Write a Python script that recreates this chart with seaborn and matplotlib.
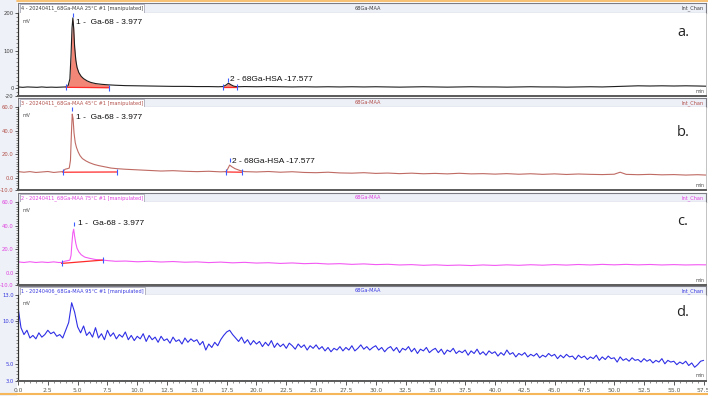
import numpy as np
import pandas as pd
import seaborn as sns
import matplotlib
matplotlib.use("Agg")
import matplotlib.pyplot as plt
from matplotlib.ticker import FixedLocator, MultipleLocator, AutoMinorLocator
from matplotlib.patches import Rectangle
from matplotlib.lines import Line2D

# ---------------- data ----------------
x_ticks = [0.0, 2.5, 5.0, 7.5, 10.0, 12.5, 15.0, 17.5, 20.0, 22.5, 25.0, 27.5, 30.0,
           32.5, 35.0, 37.5, 40.0, 42.5, 45.0, 47.5, 50.0, 52.5, 55.0, 57.5]

run_names = ["4 - 20240411_68Ga-MAA 25°C #1 [manipulated]",
             "3 - 20240411_68Ga-MAA 45°C #1 [manipulated]",
             "2 - 20240411_68Ga-MAA 75°C #1 [manipulated]",
             "1 - 20240406_68Ga-MAA 95°C #1 [manipulated]"]
panel_letters = ["a.", "b.", "c.", "d."]
peak1_label = "1 -  Ga-68 - 3.977"
peak2_label = "2 - 68Ga-HSA -17.577"

# panel a (25 °C)
time_a = [0, 0.4, 0.8, 1.2, 1.6, 2.0, 2.4, 2.8, 3.2, 3.6, 4.0, 4.2, 4.35, 4.45, 4.53,
          4.6, 4.67, 4.75, 4.85, 4.95, 5.1, 5.3, 5.5, 5.8, 6.1, 6.5, 7.0, 7.6, 8.2, 9.0,
          10, 11, 12, 13, 14, 15, 16, 16.8, 17.2, 17.45, 17.65, 17.85, 18.1, 18.4, 19, 20,
          21, 22, 23, 24, 25, 26, 27, 28, 29, 30, 31, 32, 33, 34, 35, 36, 37, 38, 39, 40,
          41, 42, 43, 44, 45, 46, 47, 48, 49, 50, 51, 52, 53, 54, 55, 56, 57, 57.7]
mv_a = [4, 3, 4, 3.5, 3, 4, 3, 3.5, 3, 3.5, 4, 7, 25, 90, 160,
        187, 160, 110, 75, 56, 42, 32, 26, 20, 16, 13, 11, 9.5, 8.5, 7.5,
        7, 6.5, 6, 5.5, 5.5, 5, 5, 4.5, 5, 9, 14, 10, 6, 4.5, 5, 4.5,
        5, 4.5, 4, 4.5, 4, 4.5, 4, 4.5, 4, 4.5, 4, 3.5, 4, 4.5, 4, 3.5, 4, 4.5, 4, 4,
        3.5, 4, 4.5, 4, 4, 3.5, 4, 4.5, 4, 5, 6, 7, 6.5, 7, 6.5, 7, 6.5, 6]

# panel b (45 °C)
time_b = [0, 0.5, 1.0, 1.5, 2.0, 2.5, 3.0, 3.4, 3.75, 3.95, 4.15, 4.3, 4.4, 4.48, 4.55,
          4.62, 4.7, 4.8, 4.9, 5.05, 5.2, 5.4, 5.7, 6.0, 6.4, 6.8, 7.3, 7.8, 8.3, 9.0,
          10, 11, 12, 13, 14, 15, 16, 17, 17.45, 17.6, 17.75, 17.95, 18.2, 18.6, 19, 20,
          21, 22, 23, 24, 25, 26, 27, 28, 29, 30, 31, 32, 33, 34, 35, 36, 37, 38, 39, 40,
          41, 42, 43, 44, 45, 46, 47, 48, 49, 50, 50.5, 51, 52, 53, 54, 55, 56, 57, 57.7]
mv_b = [5.5, 5, 5.5, 4.8, 5.2, 5.6, 4.8, 5.2, 5.5, 7.5, 8, 8.5, 15, 38, 54,
        50, 38, 30, 26, 22, 19, 16.5, 14.5, 13, 11.5, 10.5, 9.5, 8.5, 8, 7.5,
        7, 6.5, 6, 6.3, 5.8, 5.5, 5.8, 5.3, 5.5, 8, 11, 9.5, 8, 6.5, 5.5, 5.2,
        5.6, 5, 5.4, 4.8, 4.6, 5, 4.4, 4.2, 4.6, 4, 4.3, 3.8, 4.2, 3.7, 4, 3.6, 4.1, 3.6, 3.8, 3.4,
        3.8, 3.3, 3.7, 3.2, 3.6, 3.1, 3.5, 3.2, 3, 3.3, 5, 3.2, 2.9, 3.2, 2.8, 3, 2.6, 2.9, 2.6]

# panel c (75 °C)
time_c = [0, 0.5, 1.0, 1.5, 2.0, 2.5, 3.0, 3.4, 3.65, 3.9, 4.15, 4.35, 4.45, 4.52, 4.6,
          4.67, 4.75, 4.85, 4.95, 5.1, 5.3, 5.6, 6.0, 6.5, 7.1, 7.6, 8.2, 9.0, 10, 11,
          12, 13, 14, 15, 16, 17, 18, 19, 20, 21, 22, 23, 24, 25, 26, 27, 28, 29, 30,
          31, 32, 33, 34, 35, 36, 37, 38, 39, 40, 41, 42, 43, 44, 45, 46, 47, 48, 49, 50,
          51, 52, 53, 54, 55, 56, 57, 57.7]
mv_c = [9.5, 9, 9.6, 9, 9.4, 9, 9.5, 9, 9, 10, 10.5, 11, 15, 25, 34,
        37, 31, 25, 21, 18, 15.5, 13.5, 12.5, 11.5, 11, 10.5, 10, 10.2, 9.6, 10,
        9.4, 9.8, 9.2, 9.5, 8.9, 9.3, 8.7, 9.1, 8.5, 8.8, 8.2, 8.6, 8, 8.3, 7.7, 8, 7.4, 7.8, 7.2,
        7.5, 6.9, 7.2, 6.6, 7, 6.5, 6.8, 6.4, 6.9, 6.5, 7, 6.6, 7.1, 6.7, 7.2, 6.8, 7.3, 6.9, 7.4, 7,
        7.4, 7, 7.3, 6.9, 7.2, 6.9, 7.1, 7]

# panel d (95 °C), one reading every 0.25 min
step_d = 0.25
mv_d = [11.6, 9.2, 8.4, 8.9, 8.0, 8.3, 7.9, 8.6, 8.1, 8.4,
        8.9, 8.5, 8.7, 8.2, 8.4, 8.0, 8.9, 9.8, 12.1, 11.0,
        9.3, 8.6, 9.4, 8.3, 8.7, 8.1, 9.2, 8.0, 8.5, 7.8,
        8.9, 8.2, 8.6, 7.9, 8.4, 8.1, 8.7, 7.8, 8.3, 7.7,
        8.2, 7.9, 8.5, 7.6, 8.3, 7.8, 8.1, 7.5, 8.2, 7.7,
        7.9, 7.4, 8.1, 7.6, 7.8, 7.3, 8.0, 7.5, 7.9, 7.6,
        7.8, 7.2, 7.6, 6.6, 7.3, 6.9, 7.5, 7.1, 7.8, 8.3,
        8.7, 8.9, 8.4, 8.0, 7.6, 8.1, 7.4, 7.8, 7.2, 7.7,
        7.3, 7.6, 7.0, 7.5, 7.1, 7.7, 6.9, 7.4, 7.0, 7.3,
        6.8, 7.4, 7.1, 6.7, 7.3, 6.9, 7.2, 6.6, 7.1, 6.8,
        7.2, 6.7, 7.0, 6.5, 6.9, 6.4, 6.8, 6.6, 7.0, 6.5,
        6.9, 6.6, 7.1, 6.5, 6.8, 7.2, 6.7, 7.0, 6.6, 6.9,
        7.1, 6.6, 6.9, 6.4, 6.8, 7.0, 6.5, 6.9, 6.3, 6.8,
        6.6, 7.0, 6.4, 6.8, 6.2, 6.7, 6.5, 6.9, 6.3, 6.6,
        6.8, 6.3, 6.7, 6.1, 6.6, 6.4, 6.8, 6.2, 6.5, 6.3,
        6.6, 6.0, 6.5, 6.2, 6.7, 6.1, 6.4, 6.0, 6.5, 6.2,
        6.4, 5.9, 6.3, 6.0, 6.6, 6.1, 6.3, 5.8, 6.2, 6.0,
        6.3, 5.8, 6.1, 5.9, 6.2, 5.7, 6.0, 5.8, 6.2, 5.9,
        6.1, 5.6, 6.0, 5.7, 6.1, 5.8, 5.9, 5.5, 6.0, 5.7,
        5.9, 5.5, 5.8, 5.6, 6.0, 5.4, 5.8, 5.5, 5.9, 5.6,
        5.7, 5.2, 5.8, 5.4, 5.6, 5.3, 5.7, 5.4, 5.5, 5.2,
        5.6, 5.3, 5.5, 5.1, 5.4, 5.2, 5.6, 5.0, 5.4, 5.2,
        5.3, 4.9, 5.2, 5.0, 5.3, 4.8, 5.1, 4.6, 4.9, 5.3,
        5.4]
time_d = [i * step_d for i in range(len(mv_d))]

# integration events: (start, end, baseline at start, baseline at end, apex time, apex mV)
events_a = [(4.0, 7.6, 3.0, 2.0, 4.6, 187), (17.2, 18.4, 4.0, 4.0, 17.65, 14)]
events_b = [(3.75, 8.3, 5.0, 5.2, 4.55, 54), (17.45, 18.8, 5.2, 5.0, 17.75, 11)]
events_c = [(3.65, 7.1, 8.2, 11.0, 4.67, 37)]

# ---------------- styling / layout ----------------
sns.set_style("white")
plt.rcParams["font.family"] = ["DejaVu Sans"]

W, H = 708, 396
fig = plt.figure(figsize=(W / 100, H / 100), dpi=100)
fig.patch.set_facecolor("white")

def px_rect(x0, y0, x1, y1):
    return [x0 / W, 1 - y1 / H, (x1 - x0) / W, (y1 - y0) / H]

# window background strip + orange borders
fig.patches.append(Rectangle((0, 0), 17 / W, 1, transform=fig.transFigure,
                             facecolor="#eef1f7", edgecolor="none", zorder=-5))
fig.add_artist(Line2D([17 / W, 1], [1 - 1 / H, 1 - 1 / H], color="#f6b65a", lw=1.2))
fig.add_artist(Line2D([0, 1], [1 - 393.5 / H, 1 - 393.5 / H], color="#f6b65a", lw=1.5))

LEFT, RIGHT = 18, 706
XMAX = 57.7

panels = [
    dict(t=time_a, v=mv_a, color="#1e1e1e", tcol="#404040", bar=(3, 13), plot=(13, 96),
         ylim=(-20, 200), yt=[-20, 0, 100, 200], fmt="{:.0f}", ev=events_a, fill=True,
         letter_y=32, lab1=(4.85, 176), lab2=(17.75, 25), mark_off=8),
    dict(t=time_b, v=mv_b, color="#bf6a63", tcol="#b2504a", bar=(98, 107), plot=(107, 190),
         ylim=(-10, 60), yt=[-10, 0, 20, 40, 60], fmt="{:.1f}", ev=events_b, fill=False,
         letter_y=133, lab1=(4.9, 51.5), lab2=(17.95, 13.9), mark_off=4.5),
    dict(t=time_c, v=mv_c, color="#f35af3", tcol="#e040e0", bar=(193, 202), plot=(202, 285),
         ylim=(-10, 60), yt=[-10, 0, 20, 40, 60], fmt="{:.1f}", ev=events_c, fill=False,
         letter_y=222, lab1=(5.0, 42), lab2=None, mark_off=4.5),
    dict(t=time_d, v=mv_d, color="#2f2fe6", tcol="#3a3ae0", bar=(286, 295), plot=(295, 381),
         ylim=(3, 13), yt=[3, 5, 10, 13], fmt="{:.1f}", ev=[], fill=False,
         letter_y=313, lab1=None, lab2=None, mark_off=0),
]

for i, p in enumerate(panels):
    # ---- title bar ----
    axb = fig.add_axes(px_rect(LEFT, p["bar"][0], RIGHT, p["bar"][1]))
    axb.set_facecolor("#eef0f8")
    axb.set_xticks([])
    axb.set_yticks([])
    for s in axb.spines.values():
        s.set_color("#7c7c84")
        s.set_linewidth(0.8)
    axb.text(0.004, 0.45, run_names[i], transform=axb.transAxes, fontsize=3.6,
             color=p["tcol"], ha="left", va="center",
             bbox=dict(boxstyle="square,pad=0.25", fc="white", ec="#9a9aaa", lw=0.5))
    axb.text(0.49, 0.45, "68Ga-MAA", transform=axb.transAxes, fontsize=3.6,
             color=p["tcol"], ha="left", va="center")
    axb.text(0.996, 0.45, "Int_Chan", transform=axb.transAxes, fontsize=3.6,
             color=p["tcol"], ha="right", va="center")

    # ---- plot ----
    ax = fig.add_axes(px_rect(LEFT, p["plot"][0], RIGHT, p["plot"][1]))
    ax.set_facecolor("white")
    df = pd.DataFrame({"t": p["t"], "mV": p["v"]})

    t_arr = np.asarray(p["t"], dtype=float)
    v_arr = np.asarray(p["v"], dtype=float)
    for (t0, t1, b0, b1, ta, va) in p["ev"]:
        bx = [t0, t1]
        by = [b0, b1]
        if p["fill"]:
            sel = (t_arr >= t0) & (t_arr <= t1)
            tt = t_arr[sel]
            base = np.interp(tt, bx, by)
            ax.fill_between(tt, base, v_arr[sel], color="#f27a68", alpha=0.9,
                            lw=0, zorder=1)
        ax.plot(bx, by, color="#ff2a2a", lw=0.9, zorder=3)
        ax.plot(bx, by, ls="none", marker="|", ms=4, mew=0.8, color="#3c5cff", zorder=4)
        ax.plot([ta], [va + p["mark_off"]], ls="none", marker="|", ms=3.5, mew=0.8,
                color="#3c5cff", zorder=4)

    sns.lineplot(data=df, x="t", y="mV", ax=ax, color=p["color"], linewidth=0.8,
                 estimator=None, sort=False, legend=False, zorder=2)

    ax.set_xlim(0, XMAX)
    ax.set_ylim(*p["ylim"])
    ax.set_xlabel("")
    ax.set_ylabel("")

    ax.yaxis.set_major_locator(FixedLocator(p["yt"]))
    ax.set_yticklabels([p["fmt"].format(v) for v in p["yt"]])
    ax.yaxis.set_minor_locator(AutoMinorLocator(5) if i > 0 else MultipleLocator(10))
    ax.tick_params(axis="y", which="major", length=2.2, width=0.6, labelsize=3.8,
                   pad=0.8, labelcolor=p["tcol"], color="#404040", left=True)
    ax.tick_params(axis="y", which="minor", length=1.2, width=0.5, color="#606060", left=True)

    ax.spines["top"].set_visible(False)
    ax.spines["right"].set_color("#b8b8b8")
    ax.spines["right"].set_linewidth(0.6)
    ax.spines["left"].set_color("#303030")
    ax.spines["left"].set_linewidth(0.9)
    ax.spines["bottom"].set_color("#5a5a5a")
    ax.spines["bottom"].set_linewidth(1.4)

    if i < 3:
        ax.set_xticks([])
    else:
        ax.xaxis.set_major_locator(FixedLocator(x_ticks))
        ax.set_xticklabels(["{:.1f}".format(v) for v in x_ticks])
        ax.xaxis.set_minor_locator(MultipleLocator(0.5))
        ax.tick_params(axis="x", which="major", length=3, width=0.6, labelsize=4.3,
                       pad=2, labelcolor="#5a5a50", color="#404040", bottom=True)
        ax.tick_params(axis="x", which="minor", length=1.6, width=0.5, color="#606060",
                       bottom=True)

    ax.text(0.006, 0.93, "mV", transform=ax.transAxes, fontsize=3.4, color="#505050",
            ha="left", va="top")
    ax.text(0.998, 0.03, "min", transform=ax.transAxes, fontsize=3.4, color="#505050",
            ha="right", va="bottom")

    if p["lab1"] is not None:
        ax.text(p["lab1"][0], p["lab1"][1], peak1_label, fontsize=6,
                family=["Liberation Sans", "DejaVu Sans"], color="#111111",
                ha="left", va="center", zorder=5)
    if p["lab2"] is not None:
        ax.text(p["lab2"][0], p["lab2"][1], peak2_label, fontsize=6,
                family=["Liberation Sans", "DejaVu Sans"], color="#111111",
                ha="left", va="center", zorder=5)

    fig.text(683 / W, 1 - p["letter_y"] / H, panel_letters[i], fontsize=10.5,
             family=["Open Sans", "DejaVu Sans"], color="#222222", ha="center", va="center")

fig.savefig("out.png", dpi=100, facecolor=fig.get_facecolor())
